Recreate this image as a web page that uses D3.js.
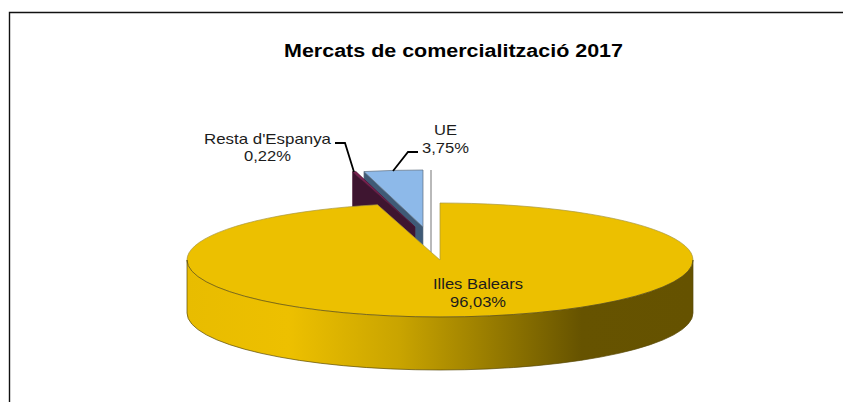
<!DOCTYPE html>
<html>
  <head>
    <meta charset="utf-8" />
    <style>
      html, body { margin: 0; padding: 0; background: #fff; }
      svg { display: block; }
      text { font-family: "Liberation Sans", Arial, sans-serif; fill: #1c1c1c; text-anchor: middle; }
      .title { font-weight: bold; font-size: 18px; fill: #000; }
      .label { font-size: 15px; }
    </style>
  </head>
  <body>
    <div id="chart"></div>

    <script src="https://d3js.org/d3.v7.min.js"></script>
    <script>
      var titleText = "Mercats de comercialització 2017";
      var categories = ["Illes Balears", "Resta d'Espanya", "UE"];
      var shares = [96.03, 0.22, 3.75];

      var width = 843,
        height = 402,
        cx = 440,
        cy = 260,
        rx = 253,
        ry = 57,
        depth = 53;

      // how far each slice is pulled out of the pie, in pixels
      var pull = [[0, 0], [-25, -33], [-17, -33]];
      var topColor = ["#ecc000", "#7b2150", "#8db9e9"];
      var wallColor = ["url(#side)", "#3e1530", "#3f5a76"];
      var edgeColor = ["#a89640", "#4a1533", "#5f6f80"];

      var svg = d3.select("#chart").append("svg").attr("width", width).attr("height", height);

      // the rim is drawn inside a group centred on the pie
      var grad = svg.append("defs").append("linearGradient")
        .attr("id", "side")
        .attr("gradientUnits", "userSpaceOnUse")
        .attr("x1", -rx).attr("x2", rx).attr("y1", 0).attr("y2", 0);
      [[0, "#e8bc00"], [0.2, "#edc000"], [0.42, "#c9a400"], [0.56, "#a38500"], [0.78, "#665300"], [1, "#655200"]]
        .forEach(function (s) {
          grad.append("stop").attr("offset", s[0]).attr("stop-color", s[1]);
        });

      // frame, cut off by the right and bottom of the picture
      svg.append("path")
        .attr("d", "M9.5," + height + "V12.5H" + width)
        .attr("fill", "none").attr("stroke", "#111").attr("stroke-width", 1.4);

      svg.append("text").attr("class", "title")
        .attr("x", 453.5).attr("y", 57)
        .attr("textLength", 339).attr("lengthAdjust", "spacingAndGlyphs")
        .text(titleText);

      // thin guide right of the UE slice
      svg.append("line")
        .attr("x1", 431).attr("x2", 431).attr("y1", 170).attr("y2", 252)
        .attr("stroke", "#8a8a8a").attr("stroke-width", 1.2);

      var pie = d3.pie().sort(null).value(function (d) { return d; })(shares);
      var arc = d3.arc().innerRadius(0).outerRadius(rx);

      function pt(a) {
        return [rx * Math.sin(a), -ry * Math.cos(a)];
      }

      // front part of the rim, only where the slice faces the viewer
      function rimPath(d) {
        var a0 = Math.max(d.startAngle, Math.PI / 2),
          a1 = Math.min(d.endAngle, 1.5 * Math.PI);
        if (a1 <= a0) return null;
        var p0 = pt(a0), p1 = pt(a1), big = a1 - a0 > Math.PI ? 1 : 0;
        return "M" + p0 + "A" + rx + "," + ry + " 0 " + big + " 1 " + p1 +
          "V" + (p1[1] + depth) +
          "A" + rx + "," + ry + " 0 " + big + " 0 " + p0[0] + "," + (p0[1] + depth) + "Z";
      }

      // cut face under the left edge of a slice
      function cutPath(d) {
        var c = pt(d.startAngle);
        var p = d3.path();
        p.moveTo(c[0], c[1]);
        p.lineTo(0, 0);
        p.lineTo(0, depth);
        p.lineTo(c[0], c[1] + depth);
        p.closePath();
        return p.toString();
      }

      // back slices first, so the big slice ends up in front
      [2, 1, 0].forEach(function (i) {
        var d = pie[i];
        var g = svg.append("g")
          .attr("transform", "translate(" + (cx + pull[i][0]) + "," + (cy + pull[i][1]) + ")");

        if (i > 0) {
          g.append("path").attr("d", cutPath(d))
            .attr("fill", wallColor[i]).attr("stroke", edgeColor[i]).attr("stroke-width", 0.6);
        }
        g.append("path")
          .attr("transform", "scale(1," + ry / rx + ")")
          .attr("d", arc(d))
          .attr("fill", topColor[i])
          .attr("stroke", edgeColor[i])
          .attr("stroke-width", 0.7)
          .attr("vector-effect", "non-scaling-stroke");
        // rim after the top so its upper edge stays as the dark front line
        var rim = rimPath(d);
        if (rim) {
          g.append("path").attr("d", rim)
            .attr("fill", wallColor[i]).attr("stroke", "#5a4a08").attr("stroke-width", 0.7);
        }
      });

      // leader lines
      var line = d3.line();
      [[[335, 143], [345, 143], [354, 172]], [[418, 152], [408, 152], [393, 171]]].forEach(function (pts) {
        svg.append("path").attr("d", line(pts))
          .attr("fill", "none").attr("stroke", "#000").attr("stroke-width", 1.8);
      });

      function pct(v) {
        return v.toFixed(2).replace(".", ",") + "%";
      }

      // x, first baseline, second baseline, width of the name
      var labelPos = [[478, 289, 307, 90], [267.5, 144, 161, 127], [445.5, 135, 153, 23]];
      var pctWidth = [56, 47, 47];
      categories.forEach(function (name, i) {
        var p = labelPos[i];
        svg.append("text").attr("class", "label")
          .attr("x", p[0]).attr("y", p[1])
          .attr("textLength", p[3]).attr("lengthAdjust", "spacingAndGlyphs")
          .text(name);
        svg.append("text").attr("class", "label")
          .attr("x", p[0]).attr("y", p[2])
          .attr("textLength", pctWidth[i]).attr("lengthAdjust", "spacingAndGlyphs")
          .text(pct(shares[i]));
      });
    </script>
  </body>
</html>
